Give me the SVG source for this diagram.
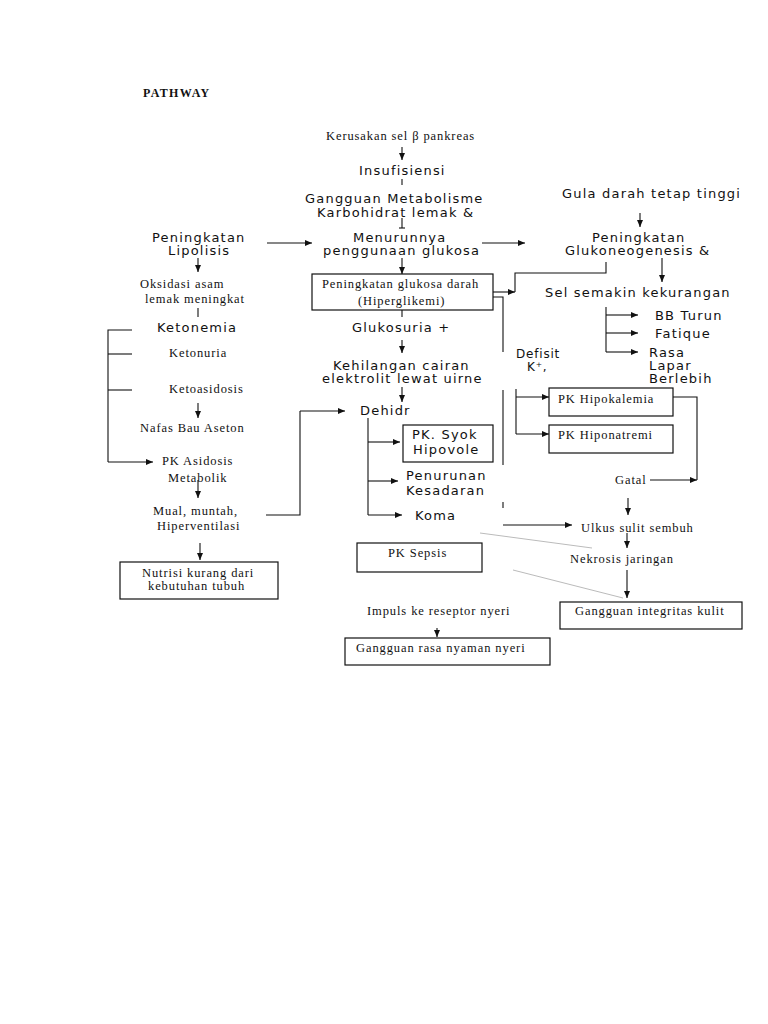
<svg xmlns="http://www.w3.org/2000/svg" width="768" height="1024" viewBox="0 0 768 1024">
<style>
.s{font-family:"DejaVu Sans","Liberation Sans",sans-serif;font-size:13px;letter-spacing:1.2px;fill:#111}
.r{font-family:"Liberation Serif","Times New Roman",serif;font-size:12.5px;letter-spacing:0.9px;fill:#111}
.t{font-family:"Liberation Serif","Times New Roman",serif;font-size:12px;font-weight:bold;letter-spacing:1.3px;fill:#111}
.box{fill:#fff;stroke:#111;stroke-width:1.2}
.c path,.c line,.c polyline{fill:none;stroke:#111;stroke-width:1.1}
.c .g{stroke:#bbb;stroke-width:1}
.c .ar{marker-end:url(#a)}
</style>
<defs>
<marker id="a" markerWidth="7" markerHeight="6" refX="7" refY="3" orient="auto" markerUnits="userSpaceOnUse"><path d="M0,0 L7,3 L0,6 z" fill="#111"/></marker>
</defs>
<rect width="768" height="1024" fill="#fff"/>
<text class="t" x="143" y="97">PATHWAY</text>

<g id="connectors" class="c">
<line class="ar" x1="402" y1="147" x2="402" y2="160"/>
<line x1="402" y1="179" x2="402" y2="185"/>
<line x1="402" y1="218" x2="402" y2="228"/>
<line x1="399" y1="228" x2="405" y2="228"/>
<line class="ar" x1="267" y1="243" x2="312" y2="243"/>
<line class="ar" x1="482" y1="243" x2="525" y2="243"/>
<line class="ar" x1="640" y1="213" x2="640" y2="227"/>
<line class="ar" x1="198" y1="258" x2="198" y2="272"/>
<line class="ar" x1="402" y1="258" x2="402" y2="274"/>
<polyline points="606,262 606,273 515,273 515,292"/>
<line class="ar" x1="493" y1="292" x2="515" y2="292"/>
<polyline points="493,297 503,297 503,352"/>
<line x1="503" y1="390" x2="503" y2="465"/>
<line x1="503" y1="502" x2="503" y2="508"/>
<line class="ar" x1="662" y1="258" x2="662" y2="282"/>
<line x1="606" y1="307" x2="606" y2="352"/>
<line class="ar" x1="606" y1="315" x2="638" y2="315"/>
<line class="ar" x1="606" y1="333" x2="638" y2="333"/>
<line class="ar" x1="606" y1="352" x2="638" y2="352"/>
<line x1="198" y1="308" x2="198" y2="317"/>
<polyline points="132,330 108,330 108,462"/>
<line class="ar" x1="108" y1="462" x2="153" y2="462"/>
<line x1="108" y1="354" x2="132" y2="354"/>
<line x1="108" y1="390" x2="132" y2="390"/>
<line x1="402" y1="310" x2="402" y2="317"/>
<line class="ar" x1="402" y1="340" x2="402" y2="353"/>
<line class="ar" x1="402" y1="387" x2="402" y2="402"/>
<line class="ar" x1="198" y1="403" x2="198" y2="418"/>
<line class="ar" x1="198" y1="480" x2="198" y2="498"/>
<polyline points="266,515 300,515 300,411"/>
<polyline class="ar" points="300,411 345,411"/>
<line class="ar" x1="200" y1="543" x2="200" y2="560"/>
<line x1="368" y1="418" x2="368" y2="515"/>
<line class="ar" x1="368" y1="442" x2="400" y2="442"/>
<line class="ar" x1="368" y1="481" x2="398" y2="481"/>
<line class="ar" x1="368" y1="515" x2="402" y2="515"/>
<line x1="516" y1="389" x2="516" y2="434"/>
<line class="ar" x1="516" y1="397" x2="549" y2="397"/>
<line class="ar" x1="516" y1="434" x2="549" y2="434"/>
<polyline points="673,397 697,397 697,480"/>
<line class="ar" x1="650" y1="480" x2="697" y2="480"/>
<line class="ar" x1="628" y1="498" x2="628" y2="515"/>
<line class="ar" x1="503" y1="525" x2="572" y2="525"/>
<line class="ar" x1="627" y1="533" x2="627" y2="548"/>
<line class="ar" x1="627" y1="570" x2="627" y2="598"/>
<line class="g" x1="480" y1="533" x2="592" y2="548"/>
<line class="g" x1="513" y1="570" x2="623" y2="598"/>
<line class="ar" x1="437" y1="628" x2="437" y2="637"/>
</g>

<g id="n-kerusakan"><text class="r" x="326" y="140">Kerusakan sel β pankreas</text></g>
<g id="n-insufisiensi"><text class="s" x="359" y="175">Insufisiensi</text></g>
<g id="n-gangguan-metabolisme"><text class="s" x="305" y="203">Gangguan Metabolisme</text><text class="s" x="317" y="217">Karbohidrat lemak &amp;</text></g>
<g id="n-lipolisis"><text class="s" x="152" y="242">Peningkatan</text><text class="s" x="168" y="255">Lipolisis</text></g>
<g id="n-menurunnya"><text class="s" x="353" y="242">Menurunnya</text><text class="s" x="323" y="255">penggunaan glukosa</text></g>
<g id="n-gula"><text class="s" x="562" y="198">Gula darah tetap tinggi</text></g>
<g id="n-glukoneogenesis"><text class="s" x="592" y="242">Peningkatan</text><text class="s" x="565" y="255">Glukoneogenesis &amp;</text></g>
<g id="n-sel"><text class="s" x="545" y="297">Sel semakin kekurangan</text></g>
<g id="n-bb"><text class="s" x="655" y="320">BB Turun</text></g>
<g id="n-fatique"><text class="s" x="655" y="338">Fatique</text></g>
<g id="n-rasa"><text class="s" x="649" y="357">Rasa</text><text class="s" x="649" y="370">Lapar</text><text class="s" x="649" y="383">Berlebih</text></g>
<g id="n-oksidasi"><text class="r" x="140" y="288">Oksidasi asam</text><text class="r" x="145" y="303">lemak meningkat</text></g>
<g id="n-hiperglikemi"><rect class="box" x="312" y="274" width="181" height="36"/><text class="r" x="322" y="288">Peningkatan glukosa darah</text><text class="r" x="358" y="305">(Hiperglikemi)</text></g>
<g id="n-glukosuria"><text class="s" x="352" y="332">Glukosuria +</text></g>
<g id="n-ketonemia"><text class="s" x="157" y="332">Ketonemia</text></g>
<g id="n-ketonuria"><text class="r" x="169" y="357">Ketonuria</text></g>
<g id="n-ketoasidosis"><text class="r" x="169" y="393">Ketoasidosis</text></g>
<g id="n-kehilangan"><text class="s" x="333" y="370">Kehilangan cairan</text><text class="s" x="322" y="383">elektrolit lewat uirne</text></g>
<g id="n-defisit"><text class="s" x="516" y="358" style="font-size:12px;letter-spacing:0.8px">Defisit</text><text class="s" x="527" y="371" style="font-size:12px;letter-spacing:0.8px">K⁺,</text></g>
<g id="n-dehidr"><text class="s" x="360" y="415">Dehidr</text></g>
<g id="n-syok"><rect class="box" x="403" y="425" width="90" height="37"/><text class="s" x="412" y="439">PK. Syok</text><text class="s" x="413" y="454">Hipovole</text></g>
<g id="n-penurunan"><text class="s" x="406" y="480">Penurunan</text><text class="s" x="406" y="495">Kesadaran</text></g>
<g id="n-koma"><text class="s" x="415" y="520">Koma</text></g>
<g id="n-nafas"><text class="r" x="140" y="432">Nafas Bau Aseton</text></g>
<g id="n-asidosis"><text class="r" x="162" y="465">PK Asidosis</text><text class="r" x="168" y="482">Metabolik</text></g>
<g id="n-mual"><text class="r" x="153" y="515">Mual, muntah,</text><text class="r" x="157" y="530">Hiperventilasi</text></g>
<g id="n-nutrisi"><rect class="box" x="120" y="562" width="158" height="37"/><text class="r" x="142" y="577">Nutrisi kurang dari</text><text class="r" x="148" y="590">kebutuhan tubuh</text></g>
<g id="n-hipokalemia"><rect class="box" x="549" y="388" width="124" height="28"/><text class="r" x="558" y="403">PK Hipokalemia</text></g>
<g id="n-hiponatremi"><rect class="box" x="549" y="425" width="124" height="28"/><text class="r" x="558" y="439">PK Hiponatremi</text></g>
<g id="n-gatal"><text class="r" x="615" y="484">Gatal</text></g>
<g id="n-ulkus"><text class="r" x="581" y="532">Ulkus sulit sembuh</text></g>
<g id="n-sepsis"><rect class="box" x="357" y="543" width="125" height="29"/><text class="r" x="388" y="557">PK Sepsis</text></g>
<g id="n-nekrosis"><text class="r" x="570" y="563">Nekrosis jaringan</text></g>
<g id="n-integritas"><rect class="box" x="560" y="602" width="182" height="27"/><text class="r" x="575" y="615">Gangguan integritas kulit</text></g>
<g id="n-impuls"><text class="r" x="367" y="615">Impuls ke reseptor nyeri</text></g>
<g id="n-nyeri"><rect class="box" x="345" y="638" width="205" height="27"/><text class="r" x="356" y="652">Gangguan rasa nyaman nyeri</text></g>
</svg>
